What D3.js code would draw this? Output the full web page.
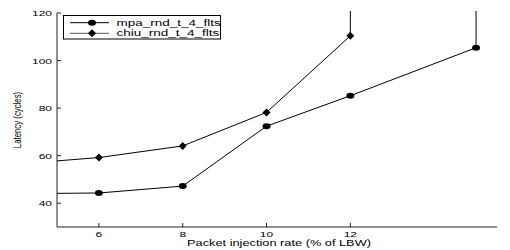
<!DOCTYPE html>
<html>
<head>
<meta charset="utf-8">
<script src="https://cdn.jsdelivr.net/npm/d3@7"></script>
<style>
  html, body { margin: 0; padding: 0; background: #fff; }
  text { font-family: "Liberation Sans", Arial, Helvetica, sans-serif; fill: #000; }
</style>
</head>
<body>
<svg id="chart" width="510" height="250"></svg>
<script>
// ---- data ----
const seriesNames = ["mpa_rnd_t_4_flts", "chiu_rnd_t_4_flts"];
const mpaRate = [4, 6, 8, 10, 12, 15, 15];
const mpaLatency = [44.0, 44.3, 47.2, 72.4, 85.2, 105.4, 400];
const chiuRate = [4, 6, 8, 10, 12, 12];
const chiuLatency = [56.4, 59.2, 64.1, 78.2, 110.4, 400];
const xTicks = [6, 8, 10, 12];
const yTicks = [40, 60, 80, 100, 120];
const xLabel = "Packet injection rate (% of LBW)";
const yLabel = "Latency (cycles)";

// ---- layout ----
const svg = d3.select("#chart");
const L = 57, R = 497, T = 13, B = 227;
const SX = 1.5; // horizontal stretch of text
const x = d3.scaleLinear().domain([5, 15.5]).range([L, R]);
const y = d3.scaleLinear().domain([30, 120]).range([B, T]);

svg.append("defs").append("clipPath").attr("id", "clip")
  .append("rect").attr("x", L).attr("y", T - 2).attr("width", R - L).attr("height", B - T + 2);

// axes
const axG = svg.append("g");
axG.append("line").attr("x1", L).attr("x2", R).attr("y1", B).attr("y2", B)
  .attr("stroke", "#222").attr("stroke-width", 1);
axG.append("line").attr("x1", L).attr("x2", L).attr("y1", T).attr("y2", B)
  .attr("stroke", "#222").attr("stroke-width", 1);

yTicks.forEach(v => {
  axG.append("line").attr("x1", L).attr("x2", L + 4).attr("y1", y(v)).attr("y2", y(v))
    .attr("stroke", "#222");
  axG.append("text")
    .attr("transform", `translate(${L - 5},${y(v) + 3}) scale(${SX},1)`)
    .attr("text-anchor", "end").attr("font-size", 8).text(v);
});
xTicks.forEach(v => {
  axG.append("line").attr("x1", x(v)).attr("x2", x(v)).attr("y1", B).attr("y2", B - 4)
    .attr("stroke", "#222");
  axG.append("text")
    .attr("transform", `translate(${x(v)},${B + 10}) scale(${SX},1)`)
    .attr("text-anchor", "middle").attr("font-size", 8).text(v);
});

svg.append("text")
  .attr("transform", `translate(${(L + R) / 2 + 2},${246}) scale(1.42,1)`)
  .attr("text-anchor", "middle").attr("font-size", 9).text(xLabel);

svg.append("text")
  .attr("transform", `translate(${21},${120}) scale(${SX},1) rotate(-90)`)
  .attr("text-anchor", "middle").attr("font-size", 7.8).text(yLabel);

// series
const plot = svg.append("g").attr("clip-path", "url(#clip)");
const line = d3.line().x(d => x(d[0])).y(d => y(d[1]));
const mpa = mpaRate.map((r, i) => [r, mpaLatency[i]]);
const chiu = chiuRate.map((r, i) => [r, chiuLatency[i]]);

plot.append("path").datum(mpa).attr("d", line).attr("fill", "none")
  .attr("stroke", "#000").attr("stroke-width", 1);
plot.append("path").datum(chiu).attr("d", line).attr("fill", "none")
  .attr("stroke", "#000").attr("stroke-width", 1);

const diamond = "M0,-4L4,0L0,4L-4,0Z";
plot.selectAll(".m1").data(mpa).enter().append("ellipse")
  .attr("cx", d => x(d[0])).attr("cy", d => y(d[1])).attr("rx", 4).attr("ry", 3)
  .attr("fill", "#000");
plot.selectAll(".m2").data(chiu).enter().append("path")
  .attr("transform", d => `translate(${x(d[0])},${y(d[1])})`).attr("d", diamond)
  .attr("fill", "#000");

// legend
const lg = svg.append("g");
lg.append("rect").attr("x", 63.5).attr("y", 15.5).attr("width", 157).attr("height", 23.5)
  .attr("fill", "#fff").attr("stroke", "#000").attr("stroke-width", 1);
const rows = [22.7, 33.3];
seriesNames.forEach((name, i) => {
  const yy = rows[i];
  lg.append("line").attr("x1", 70).attr("x2", 109).attr("y1", yy).attr("y2", yy)
    .attr("stroke", i === 0 ? "#000" : "#555").attr("stroke-width", 1);
  if (i === 0) {
    lg.append("ellipse").attr("cx", 92).attr("cy", yy).attr("rx", 4).attr("ry", 3).attr("fill", "#000");
  } else {
    lg.append("path").attr("transform", `translate(92,${yy})`).attr("d", diamond).attr("fill", "#000");
  }
  lg.append("text").attr("transform", `translate(116.5,${yy + 3}) scale(${SX},1)`)
    .attr("font-size", 9).text(name);
});
</script>
</body>
</html>
